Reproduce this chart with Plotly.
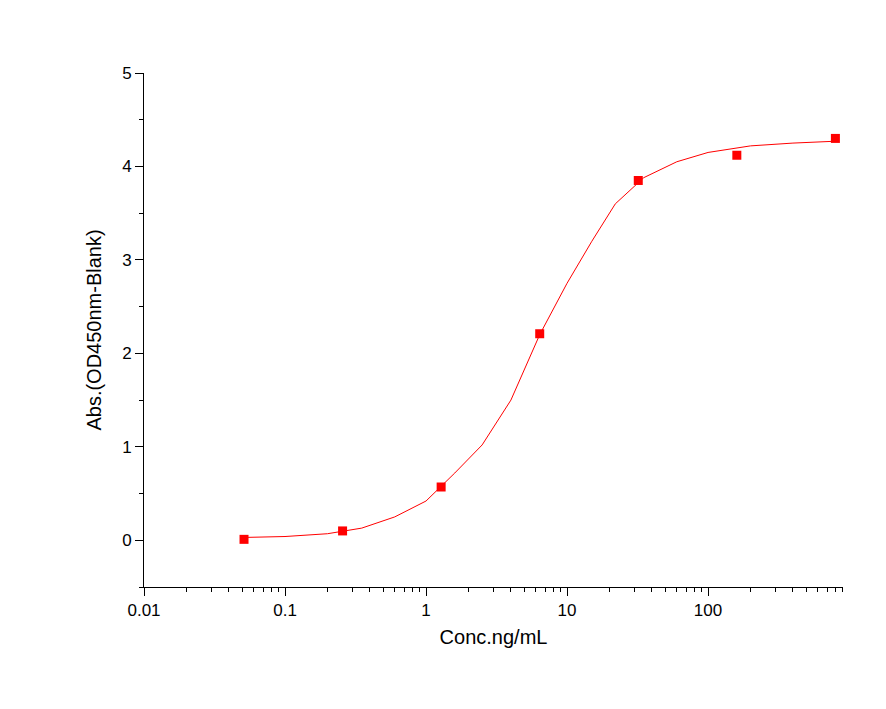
import plotly.graph_objects as go

conc = [0.0512, 0.256, 1.28, 6.4, 32, 160, 800]
absorb = [0.01, 0.10, 0.57, 2.21, 3.85, 4.12, 4.30]

fit_x = [0.05, 0.1, 0.2, 0.35, 0.6, 1.0, 1.6, 2.5, 4, 6.4, 10, 15, 22, 35, 60, 100, 200, 400, 800]
fit_y = [0.03, 0.04, 0.07, 0.13, 0.25, 0.42, 0.72, 1.02, 1.5, 2.2, 2.75, 3.2, 3.6, 3.88, 4.05, 4.15, 4.22, 4.25, 4.27]

minor_x = [m * 10 ** e for e in range(-2, 3) for m in range(2, 10)]

fig = go.Figure()
fig.add_trace(go.Scatter(x=fit_x, y=fit_y, mode="lines", line=dict(color="red", width=1)))
fig.add_trace(go.Scatter(x=conc, y=absorb, mode="markers",
                         marker=dict(symbol="square", color="red", size=9)))

axis_common = dict(showline=True, linecolor="black", linewidth=1, ticks="outside",
                   tickcolor="black", ticklen=8, showgrid=False, zeroline=False,
                   tickfont=dict(size=17, color="black"), mirror=False, automargin=False)
fig.update_xaxes(type="log", range=[-2, 2.957], tickvals=[0.01, 0.1, 1, 10, 100],
                 ticktext=["0.01", "0.1", "1", "10", "100"],
                 minor=dict(ticks="outside", ticklen=4, tickcolor="black", tickvals=minor_x, showgrid=False),
                 title=dict(text="Conc.ng/mL", font=dict(size=20, color="black"), standoff=10), **axis_common)
fig.update_yaxes(range=[-0.5, 5], tickvals=[0, 1, 2, 3, 4, 5],
                 minor=dict(ticks="outside", ticklen=4, tickcolor="black", dtick=0.5, showgrid=False),
                 title=dict(text="Abs.(OD450nm-Blank)", font=dict(size=20, color="black"), standoff=15), **axis_common)
fig.update_layout(width=886, height=709, showlegend=False, plot_bgcolor="white",
                  paper_bgcolor="white", font=dict(family="Liberation Sans"),
                  margin=dict(l=136, r=51, t=65, b=130))
fig.write_html("out.html")
